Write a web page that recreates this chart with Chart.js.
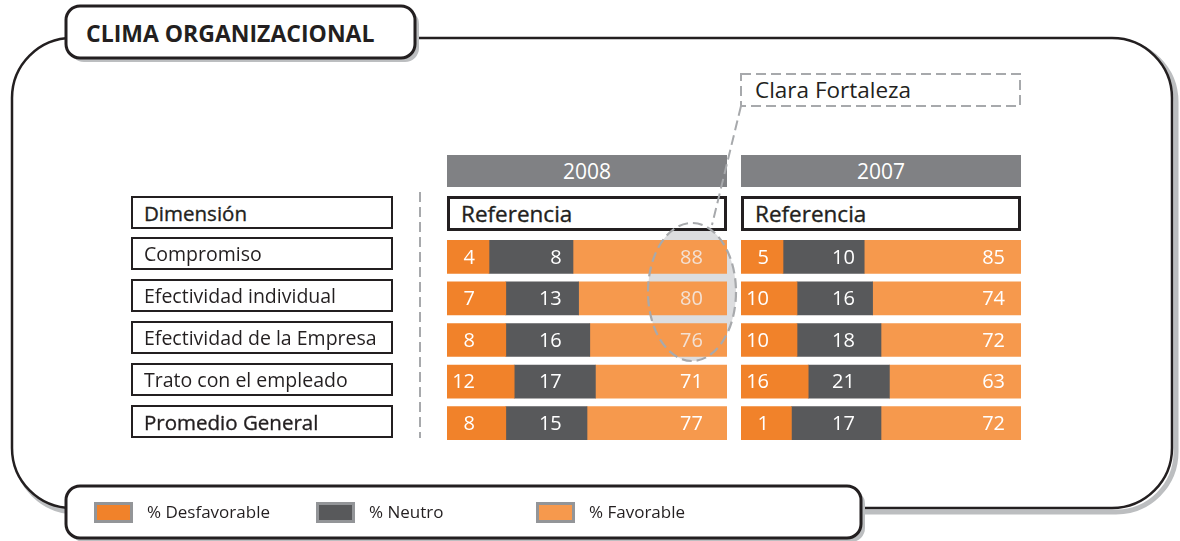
<!DOCTYPE html>
<html>
<head>
<meta charset="utf-8">
<script src="https://cdn.jsdelivr.net/npm/chart.js@4.4.1/dist/chart.umd.min.js"></script>
<style>
  body { margin: 0; background: #fff; font-family: "Open Sans", sans-serif; color: #231f20; }
  #lienzo { position: relative; width: 1180px; height: 541px; overflow: hidden; }
  .abs { position: absolute; box-sizing: border-box; }
  .caja { border: 2px solid #231f20; background: #fff; font-size: 19.5px; padding-left: 11px; display: flex; align-items: center; }
  .medio { font-size: 20.5px; -webkit-text-stroke: 0.35px #231f20; }
  .anio { background: #808184; color: #fff; font-size: 21px; display: flex; align-items: center; justify-content: center; }
  .ref { border: 3px solid #231f20; background: #fff; font-size: 22.5px; -webkit-text-stroke: 0.35px #231f20; padding-left: 11px; display: flex; align-items: center; }
  canvas { position: absolute; }
  .leyenda { font-size: 17px; color: #231f20; }
</style>
</head>
<body>
<div id="lienzo">
  <svg class="abs" width="1180" height="541" style="left:0;top:0">
    <rect x="16" y="42" width="1160" height="470" rx="60" fill="none" stroke="#bcbec0" stroke-width="5"/>
    <rect x="12" y="38" width="1160" height="470" rx="60" fill="#fff" stroke="#231f20" stroke-width="2.5"/>
    <rect x="70" y="10" width="349" height="52" rx="14" fill="#bcbec0"/>
    <rect x="66" y="6" width="349" height="52" rx="14" fill="#fff" stroke="#231f20" stroke-width="3"/>
    <rect x="70" y="490" width="795" height="52" rx="14" fill="#bcbec0"/>
    <rect x="66" y="486" width="795" height="52" rx="14" fill="#fff" stroke="#231f20" stroke-width="3"/>
    <ellipse cx="692" cy="292" rx="44" ry="69" fill="#dcdddf"/>
    <line x1="420" y1="192" x2="420" y2="438" stroke="#a7a9ac" stroke-width="2" stroke-dasharray="10 5"/>
  </svg>

  <div class="abs" style="left:86px;top:13px;font-size:23px;font-weight:700;line-height:40px">CLIMA ORGANIZACIONAL</div>

  <div class="abs anio" style="left:447px;top:155px;width:280px;height:32px" id="anio0"></div>
  <div class="abs anio" style="left:741px;top:155px;width:280px;height:32px" id="anio1"></div>
  <div class="abs ref" style="left:447px;top:196px;width:280px;height:35px">Referencia</div>
  <div class="abs ref" style="left:741px;top:196px;width:280px;height:35px">Referencia</div>

  <canvas id="g2008" width="280" height="208" style="left:447px;top:236px"></canvas>
  <canvas id="g2007" width="280" height="208" style="left:741px;top:236px"></canvas>

  <svg class="abs" width="1180" height="541" style="left:0;top:0">
    <ellipse cx="692" cy="292" rx="44" ry="69" fill="none" stroke="#a7a9ac" stroke-width="2.2" stroke-dasharray="10 5"/>
    <line x1="741" y1="106" x2="712" y2="225" stroke="#a7a9ac" stroke-width="2" stroke-dasharray="10 5"/>
    <rect x="741" y="74" width="279" height="32" fill="#fff" stroke="#a7a9ac" stroke-width="2" stroke-dasharray="10 5"/>
    <text x="755" y="98" font-family="Open Sans" font-size="22.5" fill="#231f20">Clara Fortaleza</text>
  </svg>
</div>

<script>
// filas y series
const dimensiones = ['Compromiso', 'Efectividad individual', 'Efectividad de la Empresa', 'Trato con el empleado', 'Promedio General'];
const anios = ['2008', '2007'];
const series = ['% Desfavorable', '% Neutro', '% Favorable'];
const colores = ['#f1822a', '#58595b', '#f6994d'];

// valores impresos en las barras
const desfav2008 = [4, 7, 8, 12, 8];
const neutro2008 = [8, 13, 16, 17, 15];
const fav2008 = [88, 80, 76, 71, 77];
const desfav2007 = [5, 10, 10, 16, 1];
const neutro2007 = [10, 16, 18, 21, 17];
const fav2007 = [85, 74, 72, 63, 72];

// largo dibujado de cada tramo (% del ancho de la barra) - el original no esta a escala
const largoDesfav2008 = [15, 21, 21, 24, 21];
const largoNeutro2008 = [30, 26, 30, 29, 29];
const largoFav2008 = [55, 53, 49, 47, 50];
const largoDesfav2007 = [15, 20, 20, 24, 18];
const largoNeutro2007 = [29, 27, 30, 29, 32];
const largoFav2007 = [56, 53, 50, 47, 50];

// cajas de la izquierda
const lienzo = document.getElementById('lienzo');
const filas = ['Dimensión'].concat(dimensiones);
const topes = [196, 237, 279, 321, 363, 405];
filas.forEach((t, i) => {
  const d = document.createElement('div');
  d.className = 'abs caja' + ((i === 0 || i === filas.length - 1) ? ' medio' : '');
  d.style.cssText = `left:131px;top:${topes[i]}px;width:262px;height:33px;`;
  d.textContent = t;
  lienzo.appendChild(d);
});
anios.forEach((a, i) => { document.getElementById('anio' + i).textContent = a; });

// leyenda
const posLeyenda = [94, 316, 536];
series.forEach((s, i) => {
  const sw = document.createElement('div');
  sw.className = 'abs';
  sw.style.cssText = `left:${posLeyenda[i]}px;top:502px;width:39px;height:21px;background:${colores[i]};border:3px solid #939598`;
  lienzo.appendChild(sw);
  const tx = document.createElement('div');
  tx.className = 'abs leyenda';
  tx.style.cssText = `left:${posLeyenda[i] + 53}px;top:500px;line-height:24px`;
  tx.textContent = s;
  lienzo.appendChild(tx);
});

// numeros sobre las barras, alineados a la derecha en columnas fijas
const etiquetas = {
  id: 'etiquetas',
  afterDatasetsDraw(chart, args, opts) {
    const { ctx } = chart;
    const x = chart.scales.x;
    ctx.save();
    ctx.font = '20px "Open Sans"';
    ctx.textAlign = 'right';
    ctx.textBaseline = 'middle';
    chart.data.datasets.forEach((ds, i) => {
      chart.getDatasetMeta(i).data.forEach((bar, j) => {
        ctx.fillStyle = (i === 2 && opts.resaltar.includes(j)) ? '#f3e1d4' : '#fff';
        ctx.fillText(ds.valores[j], x.getPixelForValue(opts.anclas[i]), bar.y + 1);
      });
    });
    ctx.restore();
  }
};

function grafico(id, largos, valores, anclas, resaltar) {
  return new Chart(document.getElementById(id), {
    type: 'bar',
    data: {
      labels: dimensiones,
      datasets: series.map((s, i) => ({
        label: s,
        data: largos[i],
        valores: valores[i],
        backgroundColor: colores[i],
        borderWidth: 0,
        barThickness: 33
      }))
    },
    options: {
      indexAxis: 'y',
      responsive: false,
      animation: false,
      devicePixelRatio: 1,
      layout: { padding: 0 },
      scales: {
        x: { stacked: true, min: 0, max: 100, display: false },
        y: { stacked: true, display: false }
      },
      plugins: {
        legend: { display: false },
        tooltip: { enabled: false },
        etiquetas: { anclas: anclas, resaltar: resaltar }
      }
    },
    plugins: [etiquetas]
  });
}

grafico('g2008', [largoDesfav2008, largoNeutro2008, largoFav2008],
  [desfav2008, neutro2008, fav2008], [10, 41, 91.4], [0, 1, 2]);
grafico('g2007', [largoDesfav2007, largoNeutro2007, largoFav2007],
  [desfav2007, neutro2007, fav2007], [10, 40.7, 94.3], []);
</script>
</body>
</html>
